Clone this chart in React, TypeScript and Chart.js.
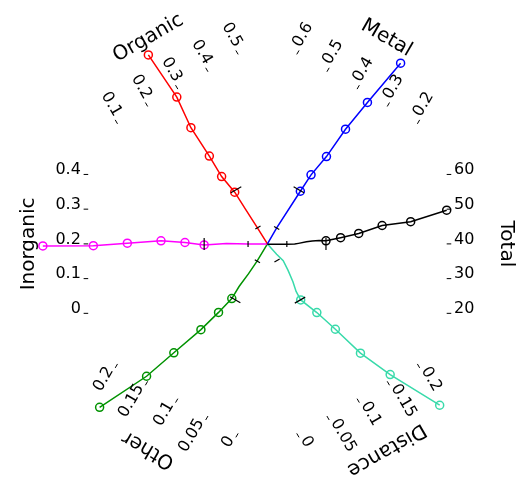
import React, { useEffect, useRef } from "react";
import { Chart, registerables } from "chart.js";

Chart.register(...registerables);

// ---- layout constants ----
const WIDTH = 531;
const HEIGHT = 481;
const CENTER_X = 267.5;
const CENTER_Y = 244;
const PX_PER_UNIT = 1.88;
const STEP_UNITS = 19.04;
const TICK_INNER = 98;
const TICK_OUTER = 100.5;
const LABEL_R = 102;
const LABEL_SHIFT = 2.4;
const TITLE_R = 130.3;

// ---- data ----
const totalTicks = [20, 30, 40, 50, 60];
const metalTicks = [0.2, 0.3, 0.4, 0.5, 0.6];
const organicTicks = [0.1, 0.2, 0.3, 0.4, 0.5];
const inorganicTicks = [0, 0.1, 0.2, 0.3, 0.4];
const otherTicks = [0, 0.05, 0.1, 0.15, 0.2];
const distanceTicks = [0, 0.05, 0.1, 0.15, 0.2];

const totalPathRadius = [0, 10.6, 14.9, 17.0, 21.3, 24.5, 28.2];
const totalPathValue = [39.9, 39.9, 39.95, 40.15, 40.6, 40.85, 41.0];
const totalPointRadius = [32.0, 40.0, 49.9, 62.7, 78.3, 98.0];
const totalPointValue = [40.9, 41.8, 43.0, 45.3, 46.4, 49.7];
const totalDashRadius = [10.6, 32.0];

const metalPathRadius = [0, 10.1];
const metalPathValue = [0.4, 0.4];
const metalPointRadius = [34.0, 44.7, 57.6, 75.8, 94.5, 122.2];
const metalPointValue = [0.394, 0.391, 0.379, 0.371, 0.355, 0.329];
const metalDashRadius = [10.1, 34.3];

const organicPathRadius = [0, 10.8, 22.4];
const organicPathValue = [0.3, 0.298, 0.2955];
const organicPointRadius = [33.5, 44.5, 57.6, 76.1, 94.5, 122.3];
const organicPointValue = [0.293, 0.283, 0.282, 0.277, 0.286, 0.276];
const organicDashRadius = [10.4, 34.3];

const inorganicPathRadius = [0, 10.6, 22.4];
const inorganicPathValue = [0.2, 0.2, 0.201];
const inorganicPointRadius = [34.6, 45.1, 58.2, 76.6, 95.2, 122.8];
const inorganicPointValue = [0.197, 0.204, 0.209, 0.202, 0.195, 0.194];
const inorganicDashRadius = [10.6, 34.6];

const otherPathRadius = [0, 11.2, 19.3, 28.0];
const otherPathValue = [0.1, 0.1005, 0.102, 0.1046];
const otherPointRadius = [35.7, 45.9, 58.9, 77.3, 95.9, 123.5];
const otherPointValue = [0.105, 0.1115, 0.121, 0.138, 0.155, 0.191];
const otherDashRadius = [11.0, 35.3];

const distancePathRadius = [0, 7.4, 12.3, 18.2, 24.9, 30.4];
const distancePathValue = [0.1, 0.104, 0.1075, 0.1066, 0.1045, 0.1014];
const distancePointRadius = [35.7, 46.1, 59.1, 77.3, 95.6, 123.7];
const distancePointValue = [0.101, 0.112, 0.123, 0.137, 0.1585, 0.198];
const distanceDashRadius = [10.5, 35.6];

type AxisDef = {
  name: string;
  angle: number;
  color: string;
  ticks: number[];
  pathR: number[];
  pathV: number[];
  pointR: number[];
  pointV: number[];
  dashR: number[];
};

const axes: AxisDef[] = [
  { name: "Total", angle: 0, color: "#000000", ticks: totalTicks, pathR: totalPathRadius, pathV: totalPathValue, pointR: totalPointRadius, pointV: totalPointValue, dashR: totalDashRadius },
  { name: "Metal", angle: 60, color: "#0000FF", ticks: metalTicks, pathR: metalPathRadius, pathV: metalPathValue, pointR: metalPointRadius, pointV: metalPointValue, dashR: metalDashRadius },
  { name: "Organic", angle: 120, color: "#FF0000", ticks: organicTicks, pathR: organicPathRadius, pathV: organicPathValue, pointR: organicPointRadius, pointV: organicPointValue, dashR: organicDashRadius },
  { name: "Inorganic", angle: 180, color: "#FF00FF", ticks: inorganicTicks, pathR: inorganicPathRadius, pathV: inorganicPathValue, pointR: inorganicPointRadius, pointV: inorganicPointValue, dashR: inorganicDashRadius },
  { name: "Other", angle: 240, color: "#009200", ticks: otherTicks, pathR: otherPathRadius, pathV: otherPathValue, pointR: otherPointRadius, pointV: otherPointValue, dashR: otherDashRadius },
  { name: "Distance", angle: 300, color: "#38DAAA", ticks: distanceTicks, pathR: distancePathRadius, pathV: distancePathValue, pointR: distancePointRadius, pointV: distancePointValue, dashR: distanceDashRadius },
];

function frame(angle: number) {
  const t = (angle * Math.PI) / 180;
  const left = Math.cos(t) < -1e-6;
  return {
    ux: Math.cos(t),
    uy: Math.sin(t),
    vx: left ? Math.sin(t) : -Math.sin(t),
    vy: left ? -Math.cos(t) : Math.cos(t),
    left,
  };
}

function project(axis: AxisDef, r: number, value: number) {
  const f = frame(axis.angle);
  const mid = axis.ticks[2];
  const step = axis.ticks[1] - axis.ticks[0];
  const p = ((value - mid) / step) * STEP_UNITS;
  return { x: r * f.ux + p * f.vx, y: r * f.uy + p * f.vy };
}

const hexAxesPlugin = {
  id: "hexAxes",
  afterDatasetsDraw(chart: any) {
    const ctx = chart.ctx as CanvasRenderingContext2D;
    const xs = chart.scales.x;
    const ys = chart.scales.y;
    const toPx = (pt: { x: number; y: number }) => [xs.getPixelForValue(pt.x), ys.getPixelForValue(pt.y)];
    ctx.save();
    ctx.fillStyle = "#000000";
    ctx.strokeStyle = "#000000";
    ctx.lineWidth = 1;
    for (const axis of axes) {
      const f = frame(axis.angle);
      const step = axis.ticks[1] - axis.ticks[0];
      const mid = axis.ticks[2];
      for (const tv of axis.ticks) {
        const [x1, y1] = toPx(project(axis, TICK_INNER, tv));
        const [x2, y2] = toPx(project(axis, TICK_OUTER, tv));
        ctx.beginPath();
        ctx.moveTo(x1, y1);
        ctx.lineTo(x2, y2);
        ctx.stroke();
        const [lx, ly] = toPx(project(axis, LABEL_R, tv + (step * LABEL_SHIFT) / STEP_UNITS));
        const rot = f.left ? 180 - axis.angle : -axis.angle;
        ctx.save();
        ctx.translate(lx, ly);
        ctx.rotate((rot * Math.PI) / 180);
        ctx.font = "16px 'DejaVu Sans'";
        ctx.textAlign = f.left ? "right" : "left";
        ctx.textBaseline = "middle";
        ctx.fillText(String(tv), 0, 0);
        ctx.restore();
      }
      const [tx, ty] = toPx(project(axis, TITLE_R, mid));
      ctx.save();
      ctx.translate(tx, ty);
      ctx.rotate(((90 - axis.angle) * Math.PI) / 180);
      ctx.font = "20px 'DejaVu Sans'";
      ctx.textAlign = "center";
      ctx.textBaseline = "middle";
      ctx.fillText(axis.name, 0, 0);
      ctx.restore();
    }
    ctx.restore();
  },
};

export default function App() {
  const canvasRef = useRef<HTMLCanvasElement | null>(null);

  useEffect(() => {
    if (!canvasRef.current) return;
    const datasets: any[] = [];
    for (const axis of axes) {
      const f = frame(axis.angle);
      const mid = axis.ticks[2];
      const rotation = (Math.atan2(-f.vy, f.vx) * 180) / Math.PI;
      datasets.push({
        label: axis.name + " marks",
        data: axis.dashR.map((r) => project(axis, r, mid)),
        showLine: false,
        pointStyle: "line",
        rotation,
        pointRadius: axis.dashR.map((_, i) => (i === 0 ? 3 : 6)),
        borderColor: "#000000",
        pointBorderColor: "#000000",
        pointBorderWidth: 1.2,
        clip: false,
      });
    }
    for (const axis of axes) {
      const rs = axis.pathR.concat(axis.pointR);
      const vs = axis.pathV.concat(axis.pointV);
      datasets.push({
        label: axis.name,
        data: rs.map((r, i) => project(axis, r, vs[i])),
        showLine: true,
        borderColor: axis.color,
        borderWidth: 1.5,
        tension: 0,
        pointRadius: rs.map((_, i) => (i >= axis.pathR.length ? 4 : 0)),
        pointBorderColor: axis.color,
        pointBackgroundColor: "rgba(0,0,0,0)",
        pointBorderWidth: 1.5,
        clip: false,
      });
    }
    const chart = new Chart(canvasRef.current, {
      type: "scatter",
      data: { datasets },
      options: {
        animation: false,
        responsive: false,
        events: [],
        layout: { padding: 0 },
        plugins: { legend: { display: false }, tooltip: { enabled: false } },
        scales: {
          x: { type: "linear", display: false, min: -CENTER_X / PX_PER_UNIT, max: (WIDTH - CENTER_X) / PX_PER_UNIT },
          y: { type: "linear", display: false, min: -(HEIGHT - CENTER_Y) / PX_PER_UNIT, max: CENTER_Y / PX_PER_UNIT },
        },
      },
      plugins: [hexAxesPlugin],
    });
    return () => chart.destroy();
  }, []);

  return (
    <div style={{ position: "fixed", left: 0, top: 0, width: WIDTH, height: HEIGHT, background: "#ffffff" }}>
      <canvas ref={canvasRef} width={WIDTH} height={HEIGHT} style={{ display: "block" }} />
    </div>
  );
}
